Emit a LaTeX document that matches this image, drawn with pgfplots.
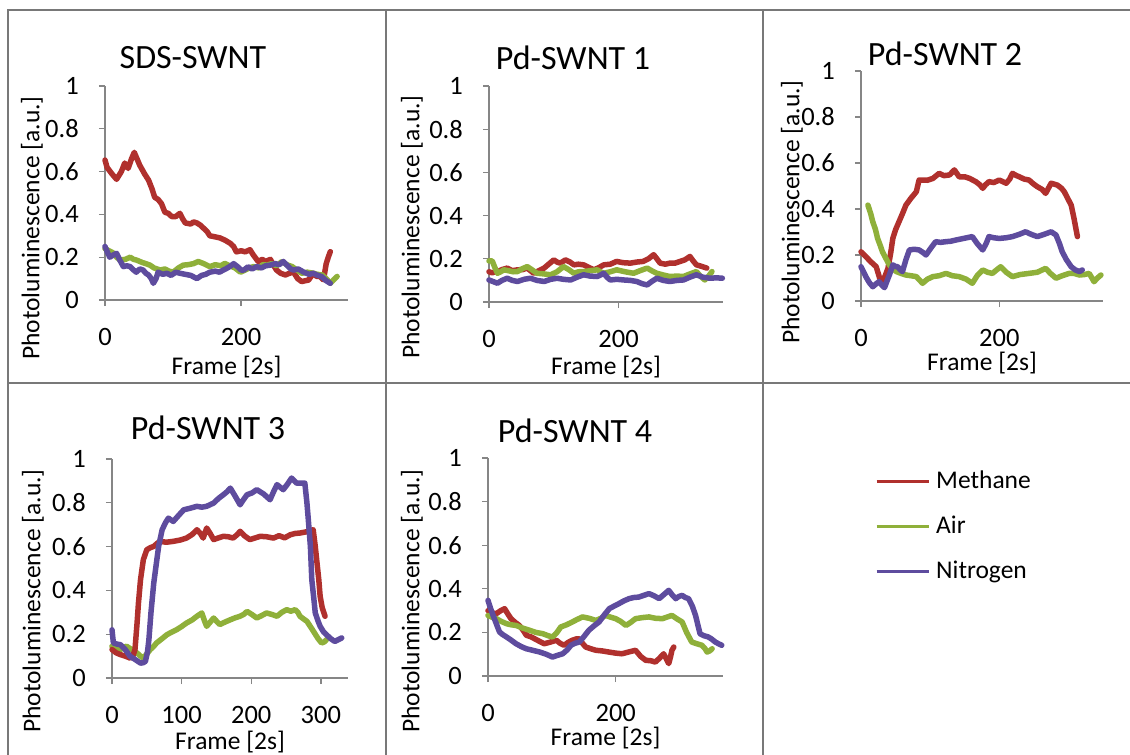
\documentclass[border=0pt]{standalone}
\usepackage{pgfplots}
\pgfplotsset{compat=1.18}
\usepackage{fontspec}
\setmainfont{Carlito}

\definecolor{methane}{RGB}{176,48,45}
\definecolor{air}{RGB}{143,176,58}
\definecolor{nitrogen}{RGB}{94,76,158}
\definecolor{axgray}{RGB}{134,134,134}
\definecolor{framegray}{RGB}{120,120,120}

\newcommand{\lblfont}{\fontsize{25.5}{30}\selectfont}
\newcommand{\tckfont}{\fontsize{26.5}{31}\selectfont}
\newcommand{\ttlfont}{\fontsize{34}{40}\selectfont}

\pgfplotsset{
  panel/.style={
    scale only axis,
    anchor=south west,
    axis lines=left,
    axis line style={draw=axgray, line width=1.3pt, -},
    tick style={draw=axgray, line width=1.3pt},
    tick align=outside,
    major tick length=6pt,
    xmin=0, ymin=0, ymax=1,
    ytick={0,0.2,0.4,0.6,0.8,1},
    yticklabels={0,0.2,0.4,0.6,0.8,1},
    /pgf/number format/assume math mode=true,
    ticklabel style={font=\tckfont, inner sep=0pt},
    yticklabel shift=20pt,
    xticklabel style={yshift=-22pt},
    label style={font=\lblfont},
    title style={font=\ttlfont, anchor=center},
    xlabel={Frame [2s]},
    ylabel={Photoluminescence [a.u.]},
    clip=false,
    every axis plot/.append style={line width=5.5pt, line join=round, line cap=round, no marks},
  },
  cellpos/.style n args={4}{
    title style={at={([xshift=#1pt,yshift=#2pt]axis description cs:0,1)}},
    ylabel style={at={([xshift=#3pt,yshift=#4pt]axis description cs:0,0)}, anchor=center},
  },
  xlab/.style={xlabel style={at={([yshift=-#1pt]axis description cs:0.5,0)}, anchor=center}},
}

\begin{document}
\begin{tikzpicture}
\path[use as bounding box] (0pt,0pt) rectangle (1130pt,-755pt);
% cell frame
\draw[framegray, line width=1.4pt] (8pt,-755pt) -- (8pt,-10pt) -- (1130pt,-10pt);
\draw[framegray, line width=1.4pt] (386pt,-10pt) -- (386pt,-755pt);
\draw[framegray, line width=1.4pt] (763pt,-10pt) -- (763pt,-755pt);
\draw[framegray, line width=1.4pt] (8pt,-383pt) -- (1130pt,-383pt);

% ---------- SDS-SWNT ----------
\begin{axis}[panel, at={(105pt,-300pt)}, width=243pt, height=214pt,
  xmax=357, xtick={0,200}, xticklabels={0,200},
  title={SDS-SWNT}, cellpos={88}{22}{-73}{72}, xlab=67]
\addplot[methane] coordinates {(0,0.654)(3,0.62)(10,0.59)(17,0.564)(24,0.60)(29,0.64)(34,0.615)(39,0.66)(43,0.69)(47,0.66)(51,0.63)(58,0.59)(64,0.56)(69,0.52)(73,0.48)(78,0.47)(83,0.45)(88,0.41)(93,0.405)(98,0.39)(104,0.39)(110,0.405)(114,0.38)(118,0.36)(126,0.355)(130,0.365)(135,0.36)(140,0.35)(145,0.335)(150,0.32)(154,0.30)(162,0.295)(169,0.29)(176,0.28)(184,0.265)(189,0.25)(193,0.225)(200,0.23)(206,0.225)(213,0.235)(218,0.21)(225,0.18)(231,0.19)(236,0.18)(243,0.19)(248,0.16)(252,0.14)(258,0.125)(265,0.117)(271,0.125)(277,0.13)(283,0.10)(289,0.086)(294,0.09)(299,0.093)(306,0.125)(311,0.11)(316,0.11)(321,0.094)(325,0.17)(328,0.2)(331,0.226)};
\addplot[air] coordinates {(0,0.24)(6,0.23)(12,0.22)(17,0.2)(22,0.187)(30,0.19)(37,0.20)(42,0.19)(46,0.187)(55,0.175)(60,0.17)(66,0.163)(72,0.15)(81,0.14)(88,0.145)(94,0.135)(100,0.13)(108,0.15)(115,0.163)(122,0.165)(130,0.17)(137,0.18)(145,0.17)(154,0.156)(162,0.165)(170,0.16)(176,0.171)(183,0.16)(191,0.15)(199,0.13)(206,0.14)(212,0.15)(218,0.156)(226,0.15)(232,0.165)(238,0.163)(245,0.17)(252,0.16)(260,0.18)(267,0.165)(275,0.156)(282,0.14)(289,0.125)(297,0.13)(306,0.125)(312,0.12)(319,0.117)(325,0.1)(331,0.078)(336,0.095)(341,0.11)};
\addplot[nitrogen] coordinates {(0,0.25)(4,0.22)(7,0.20)(12,0.21)(17,0.218)(22,0.185)(27,0.156)(32,0.16)(37,0.156)(42,0.14)(46,0.13)(51,0.145)(56,0.14)(60,0.125)(64,0.117)(68,0.1)(71,0.078)(75,0.1)(78,0.13)(85,0.12)(91,0.125)(97,0.115)(104,0.13)(110,0.125)(118,0.12)(126,0.115)(135,0.10)(142,0.115)(148,0.12)(154,0.13)(162,0.135)(168,0.13)(174,0.14)(180,0.15)(185,0.16)(189,0.17)(195,0.155)(200,0.14)(204,0.14)(210,0.155)(216,0.145)(223,0.156)(230,0.15)(236,0.16)(243,0.163)(250,0.17)(256,0.165)(262,0.18)(268,0.16)(273,0.145)(277,0.14)(284,0.145)(292,0.13)(300,0.12)(306,0.125)(311,0.117)(318,0.11)(325,0.09)(331,0.078)};
\end{axis}

% ---------- Pd-SWNT 1 ----------
\begin{axis}[panel, at={(489pt,-302pt)}, width=234pt, height=216pt,
  xmax=361, xtick={0,200}, xticklabels={0,200},
  title={Pd-SWNT 1}, cellpos={84}{22}{-77}{75}, xlab=65]
\addplot[methane] coordinates {(0,0.14)(5,0.135)(9,0.14)(13,0.14)(20,0.15)(28,0.157)(36,0.145)(44,0.149)(52,0.15)(59,0.157)(64,0.145)(69,0.133)(77,0.145)(85,0.157)(92,0.175)(100,0.195)(105,0.185)(110,0.18)(118,0.195)(125,0.185)(131,0.172)(138,0.175)(146,0.172)(154,0.16)(162,0.149)(170,0.16)(177,0.172)(187,0.175)(197,0.188)(207,0.182)(218,0.18)(228,0.185)(238,0.188)(246,0.2)(254,0.219)(259,0.2)(264,0.18)(272,0.175)(279,0.18)(287,0.18)(295,0.188)(302,0.195)(310,0.211)(315,0.19)(320,0.172)(328,0.165)(336,0.157)};
\addplot[air] coordinates {(0,0.19)(5,0.19)(9,0.16)(13,0.133)(18,0.14)(23,0.149)(30,0.145)(37,0.14)(44,0.141)(52,0.155)(59,0.164)(66,0.15)(74,0.133)(85,0.13)(95,0.126)(105,0.14)(115,0.164)(123,0.15)(131,0.133)(138,0.14)(146,0.141)(156,0.145)(167,0.149)(172,0.14)(177,0.133)(187,0.14)(197,0.149)(210,0.14)(223,0.133)(233,0.145)(244,0.157)(251,0.145)(259,0.133)(269,0.125)(279,0.118)(290,0.12)(300,0.118)(310,0.13)(320,0.141)(326,0.12)(333,0.102)(339,0.12)(344,0.141)};
\addplot[nitrogen] coordinates {(0,0.102)(6,0.095)(13,0.087)(20,0.1)(28,0.11)(36,0.1)(44,0.095)(54,0.105)(64,0.11)(74,0.1)(85,0.095)(95,0.105)(105,0.11)(115,0.105)(126,0.102)(136,0.115)(146,0.126)(156,0.12)(167,0.118)(172,0.125)(177,0.133)(182,0.115)(187,0.102)(197,0.105)(208,0.102)(218,0.1)(228,0.095)(236,0.085)(244,0.079)(251,0.095)(259,0.11)(269,0.1)(279,0.095)(290,0.1)(300,0.102)(310,0.115)(320,0.126)(330,0.115)(341,0.11)(351,0.112)(360,0.11)};
\end{axis}

% ---------- Pd-SWNT 2 ----------
\begin{axis}[panel, at={(861pt,-301pt)}, width=242pt, height=230pt,
  xmax=350, xtick={0,200}, xticklabels={0,200},
  title={Pd-SWNT 2}, cellpos={84}{11}{-69}{89}, xlab=62]
\addplot[methane] coordinates {(0,0.214)(7,0.193)(14,0.171)(18,0.16)(22,0.149)(27,0.099)(31,0.084)(35,0.11)(39,0.142)(43,0.21)(46,0.272)(50,0.31)(55,0.345)(60,0.38)(65,0.417)(72,0.446)(80,0.475)(84,0.526)(89,0.526)(96,0.525)(104,0.533)(113,0.555)(120,0.545)(128,0.548)(135,0.57)(142,0.54)(150,0.54)(157,0.533)(166,0.519)(172,0.505)(176,0.49)(180,0.505)(185,0.519)(192,0.515)(200,0.526)(210,0.512)(215,0.53)(219,0.555)(225,0.545)(229,0.54)(236,0.53)(243,0.526)(249,0.51)(255,0.497)(262,0.485)(267,0.468)(271,0.49)(275,0.512)(284,0.504)(290,0.49)(294,0.475)(300,0.44)(304,0.417)(308,0.36)(313,0.28)};
\addplot[air] coordinates {(10,0.417)(14,0.38)(17,0.345)(21,0.31)(24,0.272)(28,0.24)(31,0.214)(36,0.185)(41,0.157)(46,0.14)(51,0.128)(58,0.12)(65,0.113)(72,0.11)(80,0.106)(85,0.09)(89,0.077)(96,0.095)(104,0.106)(113,0.11)(123,0.12)(132,0.11)(142,0.106)(152,0.095)(161,0.077)(168,0.11)(176,0.135)(183,0.125)(190,0.12)(196,0.135)(202,0.149)(210,0.125)(219,0.106)(230,0.115)(243,0.12)(255,0.125)(267,0.142)(274,0.12)(282,0.099)(291,0.11)(301,0.12)(308,0.12)(316,0.113)(323,0.115)(330,0.12)(334,0.1)(337,0.084)(342,0.1)(347,0.113)};
\addplot[nitrogen] coordinates {(0,0.149)(4,0.125)(7,0.106)(12,0.08)(17,0.062)(22,0.075)(26,0.084)(30,0.07)(34,0.058)(38,0.09)(41,0.113)(46,0.157)(50,0.15)(53,0.149)(57,0.135)(60,0.128)(65,0.18)(70,0.222)(77,0.225)(84,0.222)(90,0.21)(94,0.2)(101,0.23)(108,0.258)(115,0.255)(123,0.258)(130,0.26)(137,0.265)(145,0.27)(153,0.275)(161,0.28)(168,0.25)(176,0.222)(181,0.25)(185,0.28)(192,0.275)(200,0.272)(210,0.275)(219,0.28)(229,0.29)(238,0.301)(246,0.29)(255,0.28)(265,0.29)(275,0.301)(282,0.287)(287,0.25)(291,0.214)(297,0.18)(304,0.149)(310,0.135)(316,0.128)(320,0.135)};
\end{axis}

% ---------- Pd-SWNT 3 ----------
\begin{axis}[panel, at={(112pt,-678pt)}, width=236pt, height=219pt,
  xmax=339, xtick={0,100,200,300}, xticklabels={0,100,200,300},
  title={Pd-SWNT 3}, cellpos={96}{25}{-79}{77}, xlab=64]
\addplot[air] coordinates {(0,0.145)(6,0.138)(12,0.13)(17,0.14)(21,0.145)(28,0.13)(36,0.114)(41,0.1)(45,0.091)(50,0.11)(55,0.13)(60,0.145)(64,0.16)(72,0.18)(79,0.198)(86,0.21)(93,0.221)(100,0.235)(107,0.251)(115,0.265)(122,0.282)(129,0.297)(133,0.26)(136,0.236)(141,0.255)(146,0.274)(150,0.26)(155,0.244)(162,0.255)(170,0.266)(177,0.275)(184,0.282)(189,0.29)(194,0.304)(201,0.29)(208,0.274)(215,0.285)(222,0.297)(230,0.29)(237,0.282)(244,0.3)(251,0.312)(257,0.305)(263,0.312)(267,0.3)(270,0.282)(275,0.27)(280,0.259)(286,0.23)(291,0.205)(296,0.18)(301,0.16)(305,0.165)(308,0.175)};
\addplot[methane] coordinates {(0,0.13)(6,0.115)(12,0.107)(19,0.1)(26,0.091)(30,0.1)(33,0.13)(36,0.25)(38,0.342)(41,0.45)(45,0.54)(50,0.586)(55,0.595)(60,0.601)(65,0.615)(69,0.624)(78,0.62)(88,0.624)(98,0.63)(107,0.639)(115,0.655)(122,0.677)(127,0.66)(131,0.639)(136,0.685)(141,0.66)(146,0.632)(153,0.64)(160,0.647)(167,0.645)(174,0.639)(180,0.655)(184,0.67)(190,0.65)(198,0.632)(206,0.64)(213,0.647)(222,0.645)(232,0.639)(240,0.65)(248,0.64)(256,0.654)(263,0.66)(270,0.662)(280,0.668)(289,0.677)(292,0.6)(294,0.54)(297,0.45)(299,0.373)(302,0.32)(306,0.282)};
\addplot[nitrogen] coordinates {(0,0.22)(2,0.16)(7,0.155)(12,0.152)(19,0.13)(26,0.099)(33,0.085)(41,0.068)(45,0.07)(48,0.076)(51,0.12)(53,0.175)(56,0.3)(60,0.434)(64,0.53)(67,0.601)(72,0.677)(77,0.71)(81,0.73)(88,0.715)(95,0.74)(103,0.768)(112,0.775)(122,0.784)(129,0.78)(136,0.784)(146,0.799)(153,0.82)(160,0.837)(165,0.85)(170,0.867)(177,0.83)(184,0.791)(189,0.815)(194,0.837)(201,0.845)(208,0.86)(218,0.84)(227,0.814)(232,0.85)(237,0.883)(242,0.87)(246,0.86)(252,0.885)(258,0.913)(265,0.89)(271,0.89)(277,0.89)(280,0.8)(282,0.723)(285,0.6)(287,0.449)(290,0.36)(292,0.297)(296,0.26)(299,0.236)(304,0.21)(308,0.198)(314,0.18)(320,0.167)(325,0.175)(330,0.183)};
\end{axis}

% ---------- Pd-SWNT 4 (carries the legend) ----------
\begin{axis}[panel, at={(488pt,-676pt)}, width=235pt, height=218pt,
  xmax=368, xtick={0,200}, xticklabels={0,200},
  title={Pd-SWNT 4}, cellpos={87}{21}{-76}{75}, xlab=62,
  legend style={at={([xshift=387pt,yshift=149pt]axis description cs:0,0)}, anchor=west,
    draw=none, fill=none, inner sep=0pt, font=\lblfont,
    nodes={inner sep=0pt, text height=18pt, text depth=6pt},
    row sep=21pt, column sep=6pt},
  legend cell align=left,
  legend image code/.code={\draw[#1, line width=3pt, line cap=butt] (0pt,1pt) -- (52pt,1pt);}]
\addplot[methane] coordinates {(0,0.30)(6,0.29)(13,0.286)(20,0.3)(26,0.309)(31,0.285)(36,0.263)(43,0.245)(49,0.232)(55,0.21)(60,0.187)(67,0.18)(73,0.171)(80,0.16)(88,0.148)(97,0.155)(107,0.164)(113,0.15)(119,0.141)(126,0.155)(132,0.164)(138,0.17)(143,0.171)(148,0.15)(153,0.133)(161,0.125)(169,0.118)(179,0.115)(189,0.11)(200,0.105)(210,0.102)(220,0.11)(231,0.118)(239,0.09)(247,0.072)(255,0.07)(262,0.064)(268,0.08)(275,0.102)(279,0.08)(283,0.057)(286,0.09)(288,0.118)(291,0.133)};
\addlegendentry{Methane}
\addplot[air] coordinates {(0,0.278)(6,0.27)(13,0.263)(21,0.25)(29,0.24)(36,0.235)(44,0.232)(54,0.22)(65,0.21)(75,0.2)(86,0.194)(94,0.185)(101,0.179)(108,0.2)(114,0.225)(123,0.235)(132,0.248)(140,0.26)(148,0.271)(158,0.265)(169,0.255)(177,0.265)(184,0.278)(192,0.27)(200,0.263)(208,0.25)(216,0.232)(223,0.245)(231,0.263)(242,0.268)(252,0.271)(262,0.265)(273,0.263)(280,0.27)(288,0.278)(296,0.262)(304,0.248)(311,0.2)(319,0.156)(327,0.148)(335,0.141)(340,0.125)(343,0.11)(347,0.115)(351,0.125)};
\addlegendentry{Air}
\addplot[nitrogen] coordinates {(0,0.347)(4,0.31)(8,0.278)(13,0.24)(18,0.202)(23,0.19)(29,0.179)(36,0.165)(44,0.148)(52,0.135)(60,0.125)(70,0.118)(81,0.11)(91,0.1)(101,0.087)(109,0.095)(117,0.102)(124,0.12)(130,0.141)(136,0.15)(143,0.156)(150,0.18)(158,0.21)(166,0.23)(174,0.248)(182,0.28)(190,0.309)(197,0.32)(205,0.332)(213,0.345)(221,0.355)(228,0.36)(236,0.362)(244,0.37)(252,0.378)(260,0.368)(268,0.355)(276,0.375)(283,0.393)(289,0.37)(294,0.355)(299,0.365)(304,0.37)(309,0.36)(314,0.355)(320,0.32)(325,0.278)(329,0.23)(332,0.194)(338,0.185)(345,0.179)(350,0.17)(356,0.156)(361,0.148)(366,0.141)};
\addlegendentry{Nitrogen}
\end{axis}
\end{tikzpicture}
\end{document}
